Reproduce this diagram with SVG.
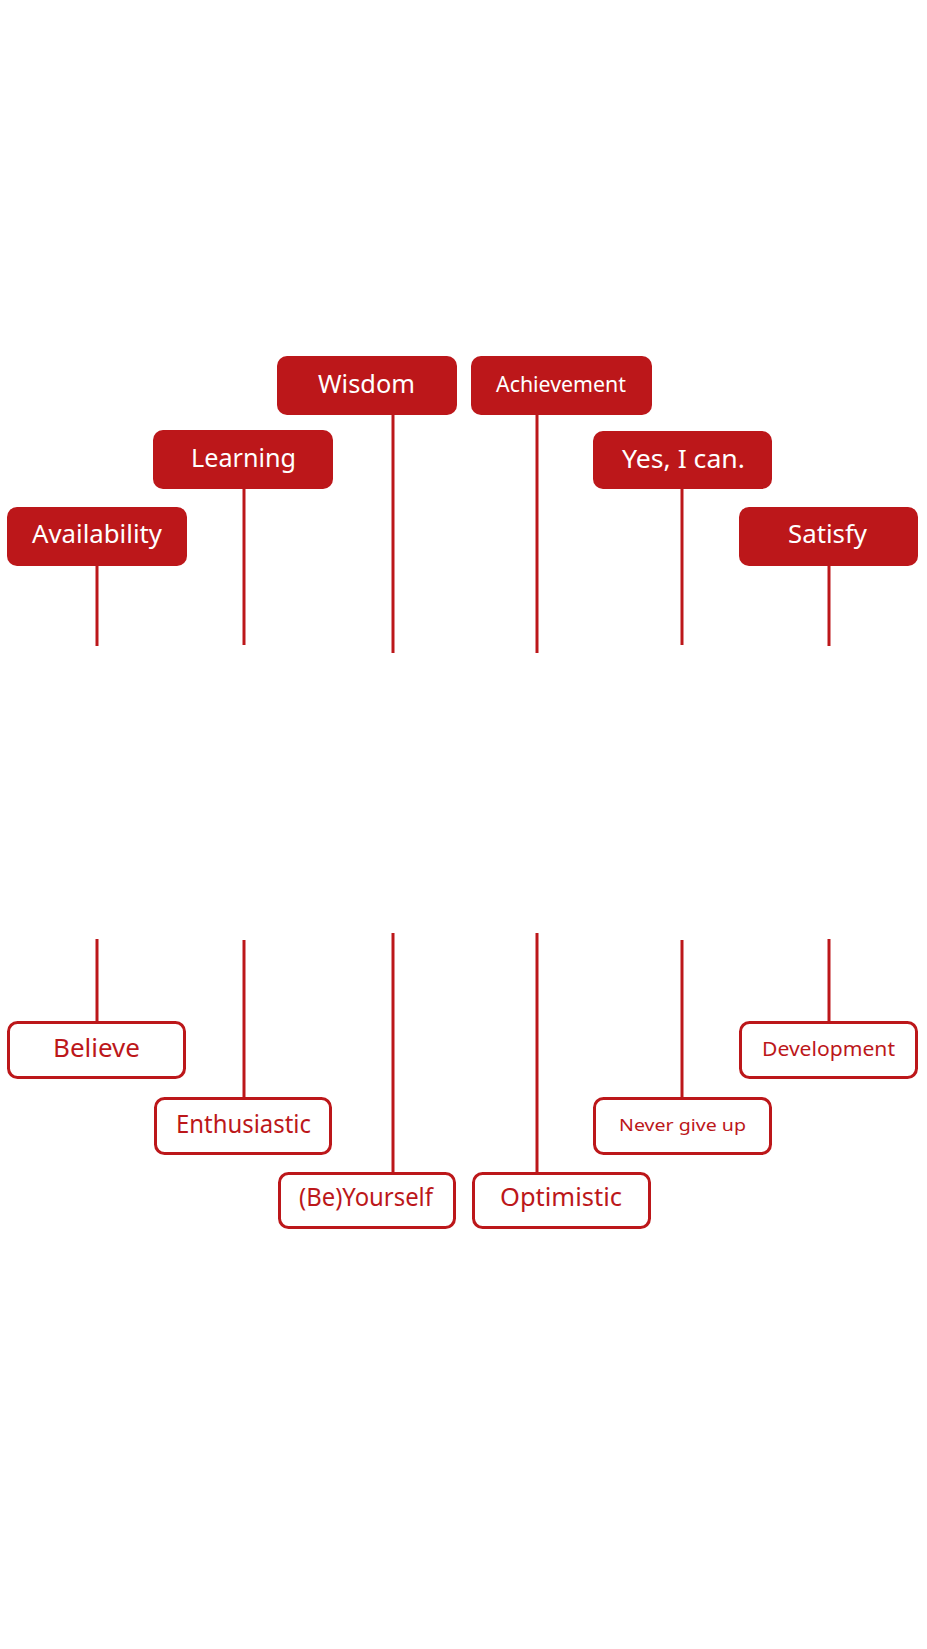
<svg xmlns="http://www.w3.org/2000/svg" width="927" height="1649" viewBox="0 0 927 1649">
<style>
.f{fill:#BC171A}
.o{fill:#ffffff;stroke:#BC171A;stroke-width:3}
.tw{fill:#ffffff;font-family:"Noto Sans","Liberation Sans",sans-serif;text-anchor:middle}
.tr{fill:#BC171A;font-family:"Noto Sans","Liberation Sans",sans-serif;text-anchor:middle}
.c{stroke:#BC171A;stroke-width:3;fill:none}
</style>
<rect width="927" height="1649" fill="#ffffff"/>
<g id="connectors">
<line class="c" x1="97" y1="566" x2="97" y2="646"/>
<line class="c" x1="244" y1="489" x2="244" y2="645"/>
<line class="c" x1="393" y1="415" x2="393" y2="653"/>
<line class="c" x1="537" y1="415" x2="537" y2="653"/>
<line class="c" x1="682" y1="489" x2="682" y2="645"/>
<line class="c" x1="829" y1="566" x2="829" y2="646"/>
<line class="c" x1="97" y1="939" x2="97" y2="1021"/>
<line class="c" x1="244" y1="940" x2="244" y2="1097"/>
<line class="c" x1="393" y1="933" x2="393" y2="1172"/>
<line class="c" x1="537" y1="933" x2="537" y2="1172"/>
<line class="c" x1="682" y1="940" x2="682" y2="1097"/>
<line class="c" x1="829" y1="939" x2="829" y2="1021"/>
</g>
<g id="wisdom"><rect class="f" x="277" y="356" width="180" height="59" rx="10"/><text class="tw" x="366.5" y="393" font-size="25" textLength="97" lengthAdjust="spacingAndGlyphs">Wisdom</text></g>
<g id="learning"><rect class="f" x="153" y="430" width="180" height="59" rx="10"/><text class="tw" x="243.5" y="467" font-size="25" textLength="105" lengthAdjust="spacingAndGlyphs">Learning</text></g>
<g id="availability"><rect class="f" x="7" y="507" width="180" height="59" rx="10"/><text class="tw" x="97" y="543" font-size="25" textLength="130" lengthAdjust="spacingAndGlyphs">Availability</text></g>
<g id="achievement"><rect class="f" x="471" y="356" width="181" height="59" rx="10"/><text class="tw" x="561" y="392" font-size="21" textLength="130" lengthAdjust="spacingAndGlyphs">Achievement</text></g>
<g id="yes-i-can"><rect class="f" x="593" y="431" width="179" height="58" rx="10"/><text class="tw" x="683.5" y="468" font-size="25" textLength="123" lengthAdjust="spacingAndGlyphs">Yes, I can.</text></g>
<g id="satisfy"><rect class="f" x="739" y="507" width="179" height="59" rx="10"/><text class="tw" x="827.5" y="543" font-size="25" textLength="79" lengthAdjust="spacingAndGlyphs">Satisfy</text></g>
<g id="believe"><rect class="o" x="8.5" y="1022.5" width="176" height="55" rx="9"/><text class="tr" x="96.5" y="1057" font-size="25" textLength="87" lengthAdjust="spacingAndGlyphs">Believe</text></g>
<g id="enthusiastic"><rect class="o" x="155.5" y="1098.5" width="175" height="55" rx="9"/><text class="tr" x="243.5" y="1133" font-size="25" textLength="135" lengthAdjust="spacingAndGlyphs">Enthusiastic</text></g>
<g id="be-yourself"><rect class="o" x="279.5" y="1173.5" width="175" height="54" rx="9"/><text class="tr" x="366" y="1206" font-size="25" textLength="134" lengthAdjust="spacingAndGlyphs">(Be)Yourself</text></g>
<g id="optimistic"><rect class="o" x="473.5" y="1173.5" width="176" height="54" rx="9"/><text class="tr" x="561" y="1206" font-size="25" textLength="122" lengthAdjust="spacingAndGlyphs">Optimistic</text></g>
<g id="never-give-up"><rect class="o" x="594.5" y="1098.5" width="176" height="55" rx="9"/><text class="tr" x="682.5" y="1131" font-size="17" textLength="127" lengthAdjust="spacingAndGlyphs">Never give up</text></g>
<g id="development"><rect class="o" x="740.5" y="1022.5" width="176" height="55" rx="9"/><text class="tr" x="828.5" y="1056" font-size="19.5" textLength="133" lengthAdjust="spacingAndGlyphs">Development</text></g>
</svg>
